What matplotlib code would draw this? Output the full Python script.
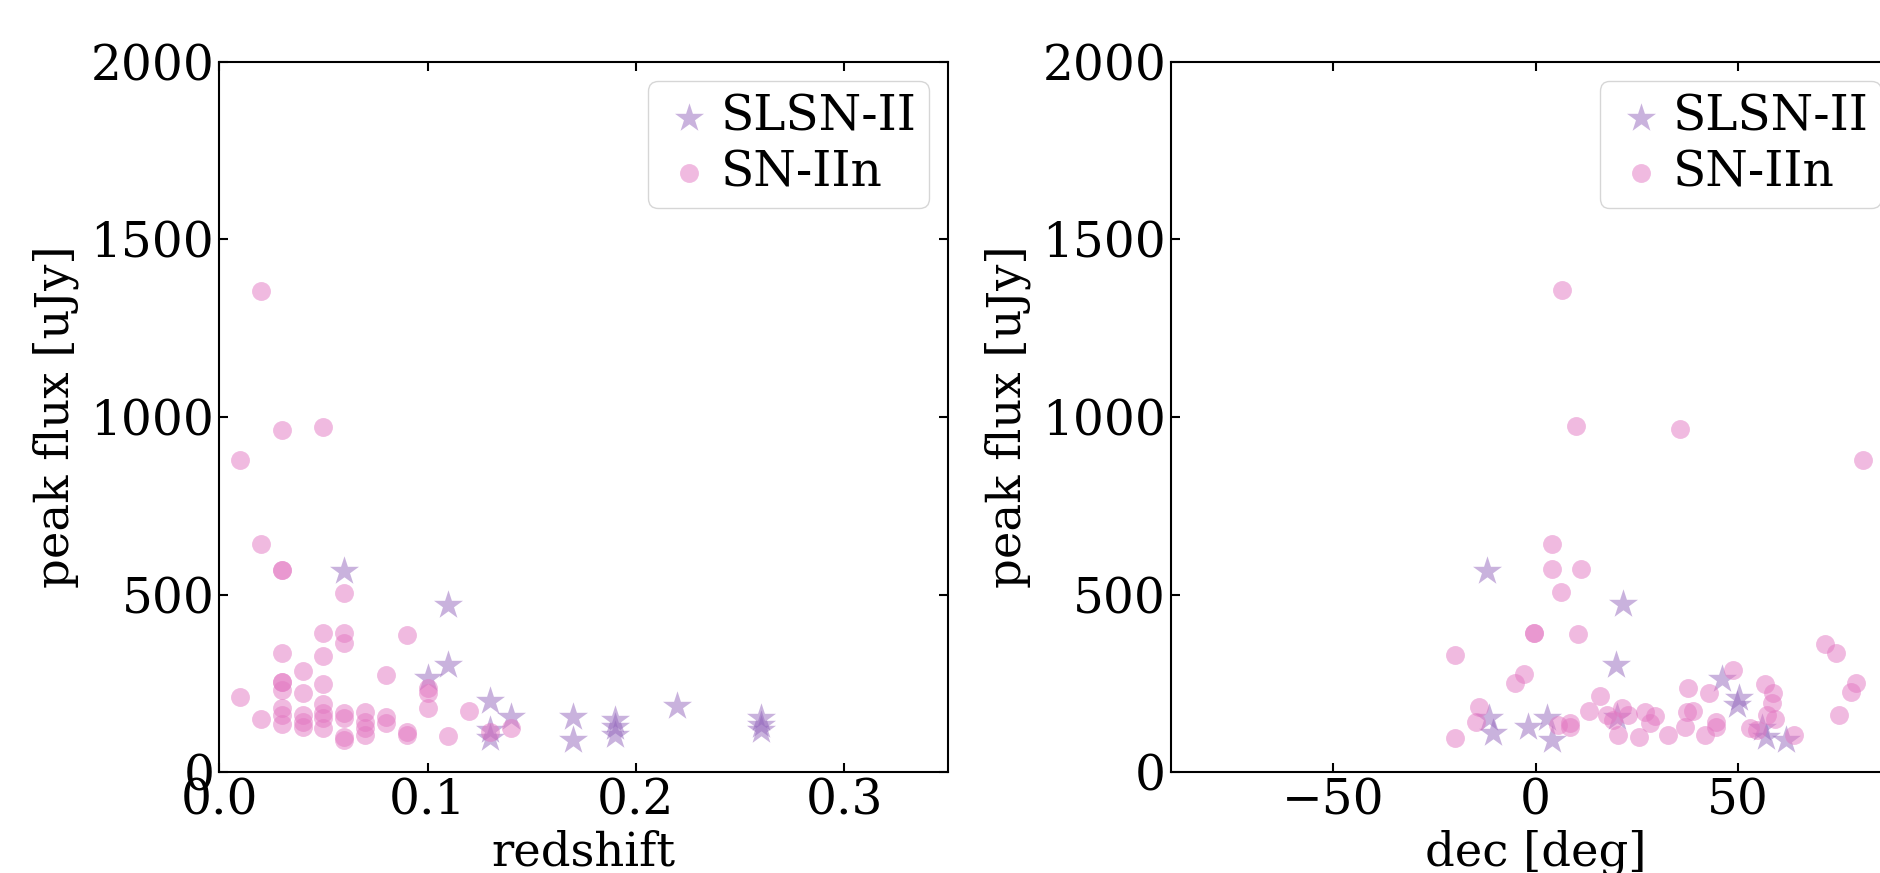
import matplotlib.pyplot as plt
import numpy as np

# SLSN-II: redshift vs peak flux
z_slsn = [0.06, 0.10, 0.11, 0.11, 0.13, 0.13, 0.13, 0.14, 0.17, 0.17,
          0.19, 0.19, 0.19, 0.22, 0.26, 0.26, 0.26]
flux_slsn_z = [566, 266, 471, 302, 200, 119, 96, 156, 156, 91,
               147, 128, 105, 186, 152, 133, 119]

# SN-IIn: redshift vs peak flux
z_iin = [0.01, 0.01,
         0.02, 0.02, 0.02,
         0.03, 0.03, 0.03, 0.03, 0.03, 0.03, 0.03, 0.03, 0.03, 0.03,
         0.04, 0.04, 0.04, 0.04, 0.04,
         0.05, 0.05, 0.05, 0.05, 0.05, 0.05, 0.05, 0.05,
         0.06, 0.06, 0.06, 0.06, 0.06, 0.06, 0.06,
         0.07, 0.07, 0.07, 0.07,
         0.08, 0.08, 0.08,
         0.09, 0.09, 0.09,
         0.10, 0.10, 0.10,
         0.11, 0.12, 0.13, 0.14]
flux_iin_z = [880, 213,
              1355, 642, 150,
              963, 570, 570, 335, 255, 255, 231, 180, 161, 136,
              286, 222, 161, 142, 128,
              973, 391, 328, 250, 192, 166, 152, 124,
              506, 391, 365, 166, 152, 100, 91,
              170, 142, 124, 105,
              274, 156, 138,
              386, 114, 105,
              236, 222, 180,
              102, 173, 114, 126]

# SLSN-II: declination vs peak flux
dec_slsn = [-12.0, 21.5, 19.9, -11.6, -10.4, -1.8, 2.8, 4.0, 20.0,
            46.0, 50.1, 49.7, 55.9, 56.9, 61.9]
flux_slsn_dec = [566, 473, 302, 152, 110, 128, 152, 91, 156,
                 264, 208, 189, 124, 100, 91]

# SN-IIn: declination vs peak flux
dec_iin = [6.4, 10.0, 35.6, 80.9, 4.1, 4.1, 11.2, 6.2, -0.4, -0.4,
           10.4, 71.5, 74.2, -19.9, -2.8, -5.1, 79.1, 77.9, 15.8, 13.2,
           -14.0, -14.6, -19.9, 5.6, 8.5, 8.4, 17.6, 19.2, 21.3, 22.9,
           20.4, 25.6, 27.0, 28.3, 29.5, 32.8, 36.9, 37.6, 37.3, 38.8,
           41.9, 42.9, 44.6, 44.6, 48.7, 56.7, 58.6, 58.3, 57.1, 59.1,
           53.0, 54.6, 63.7, 75.0]
flux_iin_dec = [1357, 975, 965, 880, 644, 572, 572, 507, 392, 392,
                389, 361, 335, 330, 276, 252, 252, 227, 215, 173,
                185, 142, 96, 133, 140, 127, 161, 147, 180, 161,
                105, 100, 170, 138, 158, 105, 128, 236, 170, 172,
                105, 224, 142, 127, 288, 250, 224, 194, 161, 149,
                124, 119, 105, 161]

plt.rcParams['font.family'] = 'DejaVu Serif'
plt.rcParams['font.size'] = 33.5

fig = plt.figure(figsize=(18.8, 8.73), dpi=100)
ax1 = fig.add_axes([0.1166, 0.1153, 0.3878, 0.8140])
ax2 = fig.add_axes([0.6229, 0.1153, 0.3878, 0.8140])

panels = [
    (ax1, z_slsn, flux_slsn_z, z_iin, flux_iin_z, 'redshift', (0, 0.35), [0, 0.1, 0.2, 0.3]),
    (ax2, dec_slsn, flux_slsn_dec, dec_iin, flux_iin_dec, 'dec [deg]', (-90, 90), [-50, 0, 50]),
]

for ax, xs, ys, xc, yc, xlabel, xlim, xticks in panels:
    ax.scatter(xs, ys, marker='*', s=480, color='tab:purple', alpha=0.5,
               linewidths=0, label='SLSN-II')
    ax.scatter(xc, yc, marker='o', s=185, color='tab:pink', alpha=0.5,
               linewidths=0, label='SN-IIn')
    ax.set_xlim(xlim)
    ax.set_ylim(0, 2000)
    ax.set_xticks(xticks)
    ax.set_yticks([0, 500, 1000, 1500, 2000])
    ax.set_xlabel(xlabel)
    ax.set_ylabel('peak flux [uJy]', labelpad=8)
    ax.tick_params(direction='in', top=True, right=True, length=6.5, width=1.5,
                   labelsize=35)
    for sp in ax.spines.values():
        sp.set_linewidth(1.5)
    ax.legend(loc='upper right', fontsize=35, handlelength=1.2, handletextpad=0.05,
              borderpad=0.25, labelspacing=0.18, borderaxespad=0.4)

ax1.xaxis.set_major_formatter(plt.FormatStrFormatter('%.1f'))

fig.savefig('out.png', dpi=100)
